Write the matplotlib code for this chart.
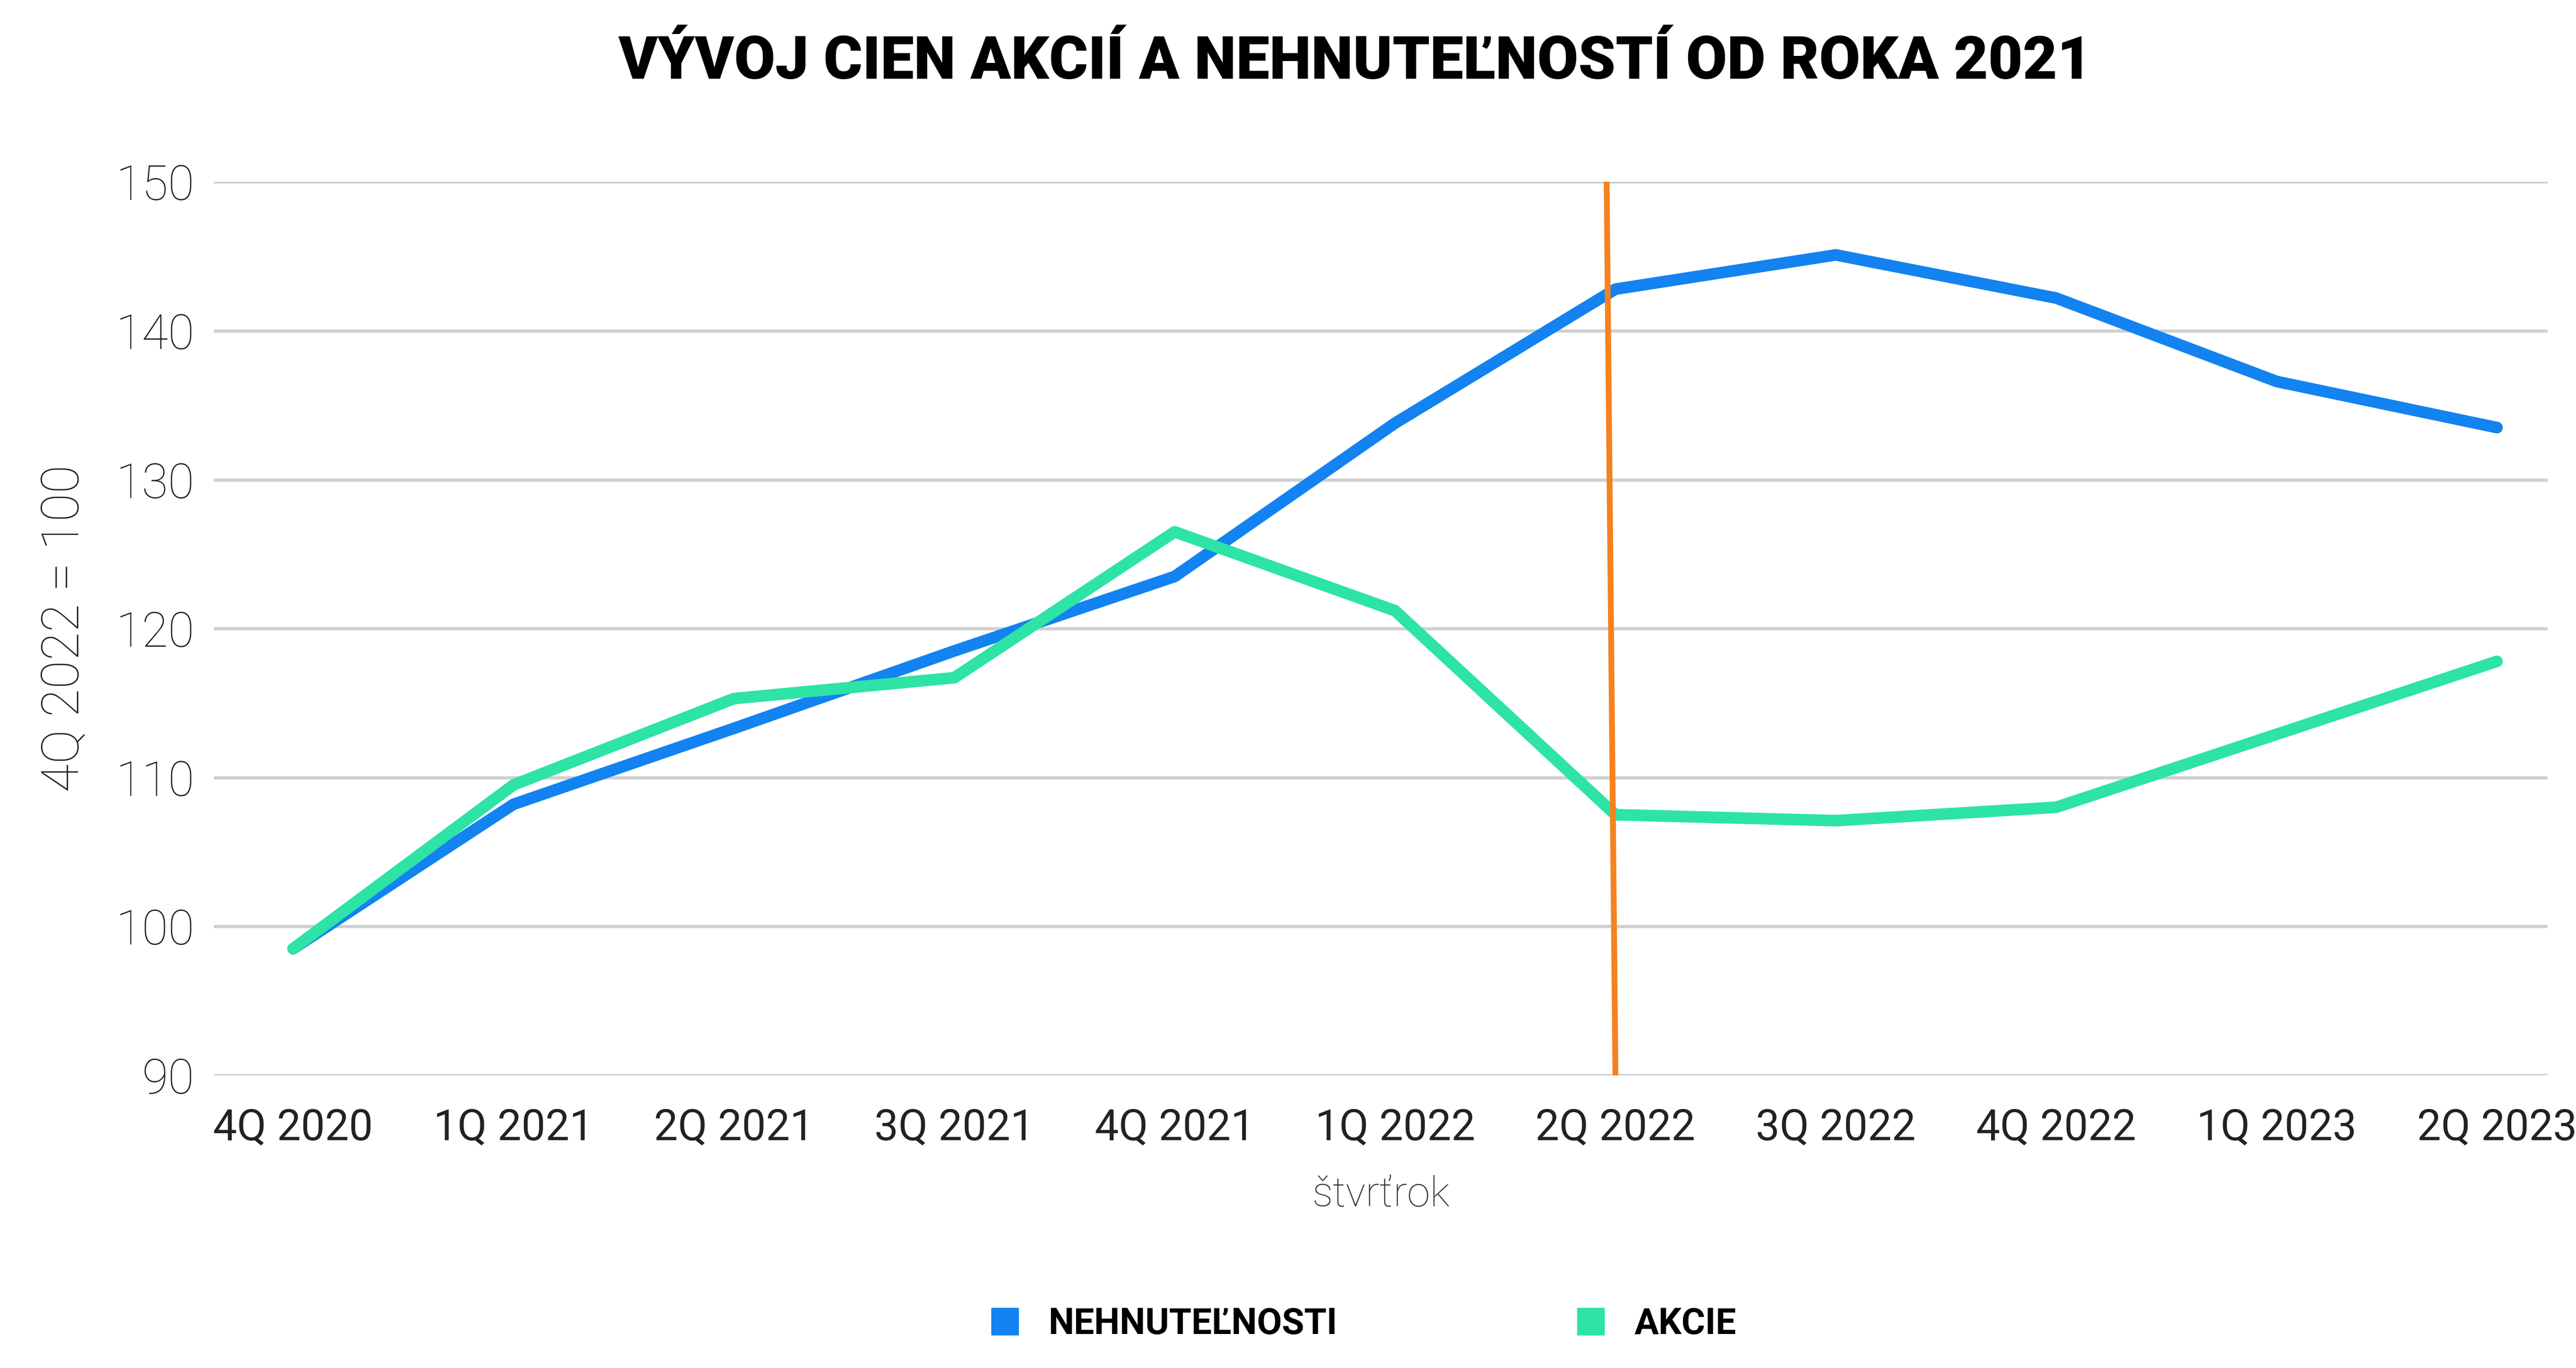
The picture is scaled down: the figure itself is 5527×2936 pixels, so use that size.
import matplotlib
matplotlib.use("Agg")
import matplotlib.pyplot as plt
from matplotlib.lines import Line2D

quarters = ["4Q 2020","1Q 2021","2Q 2021","3Q 2021","4Q 2021","1Q 2022","2Q 2022","3Q 2022","4Q 2022","1Q 2023","2Q 2023"]
nehnutelnosti = [98.5,108.2,113.3,118.5,123.5,133.8,142.8,145.1,142.2,136.6,133.5]
akcie = [98.5,109.5,115.3,116.7,126.5,121.2,107.5,107.1,108.0,112.9,117.8]

fig = plt.figure(figsize=(55.27,29.36), dpi=100)
ax = fig.add_axes([0.083,0.214,0.906,0.653])
x = list(range(len(quarters)))
ax.plot(x, nehnutelnosti, color="#1283f0", lw=18, solid_capstyle="round", zorder=3)
ax.plot(x, akcie, color="#2de3a6", lw=18, solid_capstyle="round", zorder=3)
ax.plot([5.96,6.0],[150,90], color="#f5821f", lw=9, zorder=4)
ax.set_xlim(-0.36,10.23)
ax.set_ylim(90,150)
ax.set_yticks(range(90,151,10))
ax.grid(axis="y", color="#d0d0d0", lw=5)
ax.set_axisbelow(True)
for s in ax.spines.values(): s.set_visible(False)
ax.set_xticks(x)
ax.set_xticklabels(quarters, fontsize=66, family="Roboto", color="#222222")
ax.tick_params(axis="y", labelsize=74, length=0, pad=30, labelcolor="#222222")
ax.tick_params(axis="x", length=0, pad=50)
for t in ax.get_yticklabels(): t.set_family("Roboto"); t.set_fontweight("light")
ax.set_ylabel("4Q 2022 = 100", fontsize=80, family="Roboto", fontweight="light", labelpad=40, color="#222222")
ax.set_xlabel("štvrťrok", fontsize=64, family="Roboto", fontweight="light", color="#333333", labelpad=40)
fig.suptitle("VÝVOJ CIEN AKCIÍ A NEHNUTEĽNOSTÍ OD ROKA 2021", x=0.526, y=0.975, fontsize=92,
             family="Roboto", fontweight="black")
handles=[Line2D([],[],marker="s",ls="",color="#1283f0",markersize=42),
         Line2D([],[],marker="s",ls="",color="#2de3a6",markersize=42)]
fig.legend(handles,["NEHNUTEĽNOSTI","AKCIE"], loc="center", bbox_to_anchor=(0.525,0.032), ncol=2,
           frameon=False, columnspacing=6, handletextpad=0.2,
           prop={"family":"Roboto","weight":"bold","size":56})
fig.savefig("out.png", dpi=100)
